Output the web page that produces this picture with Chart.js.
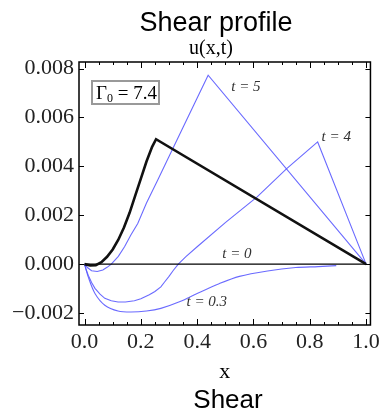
<!DOCTYPE html>
<html>
<head>
<meta charset="utf-8">
<script src="https://cdn.jsdelivr.net/npm/chart.js@4"></script>
<style>
  html, body { margin: 0; padding: 0; background: #fff; }
  canvas { display: block; }
</style>
</head>
<body>
<canvas id="chart" width="384" height="415"></canvas>
<script>
// values
const xBlack = [0, 0.02, 0.04, 0.06, 0.08, 0.1, 0.12, 0.14, 0.16, 0.18, 0.2, 0.22, 0.24, 0.254, 1.0];
const uBlack = [0, -0.00005, -0.00004, 0.00008, 0.0003, 0.0006, 0.001, 0.0015, 0.0021, 0.0028, 0.0035, 0.0042, 0.0048, 0.00511, 0];

const xT5 = [0, 0.01, 0.025, 0.045, 0.065, 0.08, 0.095, 0.12, 0.142, 0.165, 0.189, 0.22, 0.26, 0.3, 0.35, 0.4, 0.439, 1.0];
const uT5 = [0, -0.00014, -0.00027, -0.0003, -0.00024, -0.00013, 0, 0.00032, 0.00071, 0.0012, 0.00166, 0.0025, 0.00344, 0.0044, 0.0056, 0.0068, 0.00773, 0];

const xT4 = [0, 0.005, 0.013, 0.025, 0.037, 0.055, 0.072, 0.095, 0.119, 0.145, 0.177, 0.2, 0.23, 0.25, 0.271, 0.285, 0.3, 0.315, 0.333, 0.36, 0.4, 0.5, 0.613, 0.718, 0.828, 1.0];
const uT4 = [0, -0.0002, -0.00045, -0.00075, -0.00099, -0.00123, -0.0014, -0.0015, -0.00155, -0.00155, -0.0015, -0.00142, -0.00125, -0.00112, -0.00093, -0.00072, -0.0005, -0.00026, 0, 0.00031, 0.00071, 0.0017, 0.00275, 0.00391, 0.005, 0];

const xT03 = [0, 0.013, 0.037, 0.072, 0.119, 0.165, 0.22, 0.271, 0.337, 0.4, 0.478, 0.55, 0.65, 0.75, 0.83, 0.894];
const uT03 = [0, -0.00052, -0.0012, -0.00168, -0.00192, -0.00196, -0.00192, -0.00181, -0.00154, -0.0012, -0.0008, -0.0005, -0.00028, -0.00014, -0.0001, -0.00006];

const xT0 = [0, 1.0];
const uT0 = [0, 0];

const xTicks = [0, 0.2, 0.4, 0.6, 0.8, 1.0];
const yTicks = [-0.002, 0, 0.002, 0.004, 0.006, 0.008];

// curve labels: [text, x, u]
const curveLabels = [
    ['t = 5', 0.573, 0.00725],
    ['t = 4', 0.894, 0.00520],
    ['t = 0', 0.541, 0.00040],
    ['t = 0.3', 0.434, -0.00155]
];

function pts(xs, us) {
    return xs.map((x, i) => ({ x: x, y: us[i] }));
}

const serif = '"Liberation Serif", "DejaVu Serif", serif';
const sans = '"Liberation Sans", Arial, sans-serif';
const blue = 'rgba(90, 90, 255, 0.9)';

const framePlugin = {
    id: 'frame',
    afterDatasetsDraw(chart) {
        const ctx = chart.ctx;
        const a = chart.chartArea;
        const x = chart.scales.x;
        const y = chart.scales.y;
        ctx.save();
        ctx.strokeStyle = '#000';
        ctx.lineWidth = 1.5;
        ctx.strokeRect(a.left, a.top, a.right - a.left, a.bottom - a.top);

        // inward ticks
        ctx.lineWidth = 1;
        ctx.beginPath();
        for (let i = 0; i <= 20; i++) {
            const px = Math.round(x.getPixelForValue(i * 0.05)) + 0.5;
            const len = i % 4 === 0 ? 6 : 3;
            ctx.moveTo(px, a.bottom);
            ctx.lineTo(px, a.bottom - len);
            ctx.moveTo(px, a.top);
            ctx.lineTo(px, a.top + len);
        }
        yTicks.forEach(v => {
            const py = Math.round(y.getPixelForValue(v)) + 0.5;
            ctx.moveTo(a.left, py);
            ctx.lineTo(a.left + 5, py);
            ctx.moveTo(a.right, py);
            ctx.lineTo(a.right - 5, py);
        });
        ctx.stroke();

        // curve labels
        ctx.fillStyle = '#333';
        ctx.font = 'italic 15px ' + serif;
        ctx.textAlign = 'center';
        ctx.textBaseline = 'middle';
        curveLabels.forEach(l => {
            ctx.fillText(l[0], x.getPixelForValue(l[1]), y.getPixelForValue(l[2]));
        });

        // Gamma box
        ctx.strokeStyle = '#999';
        ctx.lineWidth = 2;
        ctx.strokeRect(92, 81, 67, 23);
        ctx.fillStyle = '#000';
        ctx.textAlign = 'left';
        ctx.textBaseline = 'alphabetic';
        ctx.font = '19px ' + serif;
        ctx.fillText('\u0393', 96, 99);
        let w = ctx.measureText('\u0393').width;
        ctx.font = '12px ' + serif;
        ctx.fillText('0', 96 + w, 102);
        w += ctx.measureText('0').width;
        ctx.font = '19px ' + serif;
        ctx.fillText(' = 7.4', 96 + w, 99);

        // titles
        ctx.textAlign = 'center';
        ctx.font = '27px ' + sans;
        ctx.fillText('Shear profile', 216, 31);
        ctx.font = '20px ' + serif;
        ctx.fillText('u(x,t)', 211, 54);
        ctx.font = '22px ' + serif;
        ctx.fillText('x', (a.left + a.right) / 2, 378);
        ctx.font = '26px ' + sans;
        ctx.fillText('Shear', 228, 408);
        ctx.restore();
    }
};

const ctx = document.getElementById('chart').getContext('2d');
const chart = new Chart(ctx, {
    type: 'line',
    data: {
        datasets: [
            { data: pts(xBlack, uBlack), borderColor: '#111', borderWidth: 2.6 },
            { data: pts(xT0, uT0), borderColor: '#000', borderWidth: 1.4 },
            { data: pts(xT5, uT5), borderColor: blue, borderWidth: 1.1 },
            { data: pts(xT4, uT4), borderColor: blue, borderWidth: 1.1 },
            { data: pts(xT03, uT03), borderColor: blue, borderWidth: 1.1, tension: 0.3 }
        ]
    },
    options: {
        responsive: false,
        animation: false,
        events: [],
        layout: { padding: { left: 0, top: 62, right: 11, bottom: 0 } },
        elements: {
            point: { radius: 0 },
            line: { tension: 0, fill: false }
        },
        plugins: {
            legend: { display: false },
            tooltip: { enabled: false }
        },
        scales: {
            x: {
                type: 'linear',
                min: -0.0197,
                max: 1.0155,
                afterBuildTicks: s => { s.ticks = xTicks.map(v => ({ value: v })); },
                afterFit: s => { s.height = 90; },
                grid: { display: false, drawTicks: false },
                border: { display: false },
                ticks: {
                    autoSkip: false,
                    maxRotation: 0,
                    padding: 4,
                    color: '#222',
                    font: { family: serif, size: 22 },
                    callback: v => v.toFixed(1)
                }
            },
            y: {
                type: 'linear',
                min: -0.00249,
                max: 0.00827,
                afterBuildTicks: s => { s.ticks = yTicks.map(v => ({ value: v })); },
                afterFit: s => { s.width = 79; },
                grid: { display: false, drawTicks: false },
                border: { display: false },
                ticks: {
                    autoSkip: false,
                    padding: 5,
                    color: '#222',
                    font: { family: serif, size: 22 },
                    callback: v => (v < 0 ? '\u2212' : '') + Math.abs(v).toFixed(3)
                }
            }
        }
    },
    plugins: [framePlugin]
});
</script>
</body>
</html>
